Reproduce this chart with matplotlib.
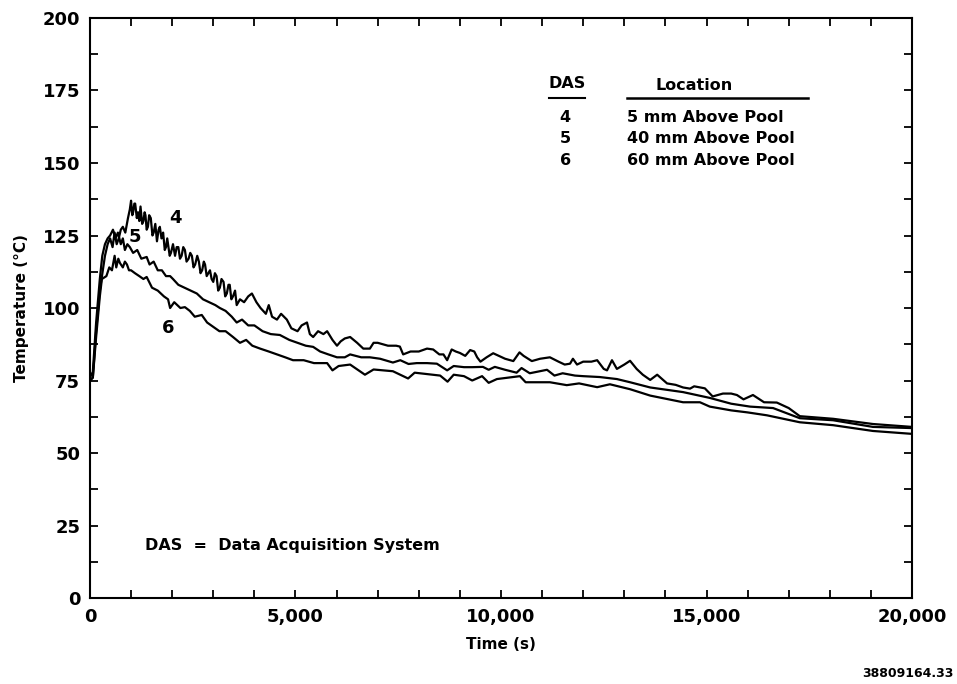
import matplotlib
matplotlib.use("Agg")
import matplotlib.pyplot as plt
from matplotlib.ticker import MultipleLocator, FuncFormatter

# --- data: time (s), temperature (C) ---
t4 = [0, 70, 150, 240, 365, 430, 490, 550, 600, 650, 700, 750, 800, 860, 925, 970,
      1000, 1030, 1050, 1080, 1100, 1140, 1170, 1200, 1230, 1270, 1300, 1330, 1350,
      1380, 1410, 1440, 1480, 1520, 1550, 1590, 1630, 1670, 1700, 1740, 1780, 1820,
      1850, 1880, 1900, 1940, 1970, 2020, 2070, 2110, 2150, 2190, 2230, 2270, 2310,
      2350, 2400, 2440, 2480, 2520, 2560, 2610, 2650, 2690, 2730, 2770, 2800, 2840,
      2880, 2920, 2960, 3000, 3040, 3080, 3120, 3160, 3200, 3250, 3290, 3330, 3370,
      3400, 3440, 3480, 3530, 3570, 3650, 3750, 3850, 3940, 4050, 4150, 4280,
      4350, 4430, 4550, 4650, 4790, 4900, 5050, 5150, 5280, 5350, 5430, 5550, 5680,
      5770, 5900, 6010, 6100, 6200, 6330, 6500, 6650, 6810, 6900, 7000, 7250, 7450,
      7540, 7620, 7800, 8000, 8200, 8350, 8500, 8600, 8690, 8800, 8900, 9000, 9130,
      9250, 9350, 9420, 9500, 9650, 9810, 9950, 10100, 10300, 10450, 10550, 10750,
      10950, 11190, 11400, 11550, 11680, 11750, 11850, 12000, 12200, 12340, 12500,
      12580, 12700, 12820, 13000, 13140, 13300, 13450, 13630, 13800, 14040, 14250,
      14430, 14600, 14700, 14960, 15150, 15400, 15600, 15740, 15900, 16130, 16400,
      16710, 17000, 17270, 18080, 19050, 20000]
temp4 = [75, 76, 92, 106, 118, 122, 124, 121, 126, 122, 124, 127, 128, 126, 131, 134,
         137, 132, 133, 136, 136, 131, 133, 130, 135, 129, 130, 133, 132,
         127, 128, 132, 131, 125, 126, 129, 123, 127, 128, 124, 126, 120,
         121, 124, 122, 118, 119, 122, 118, 121, 121, 117, 118, 121, 120,
         116, 117, 119, 118, 114, 115, 118, 116, 112, 113, 116, 115, 111,
         112, 113, 110, 109, 112, 111, 106, 107, 110, 109, 104, 105, 108,
         108, 103, 104, 106, 101, 103, 102, 104, 105, 102, 100, 98,
         101, 97, 96, 98, 96, 93, 92, 94, 95, 91, 90, 92, 91,
         92, 89, 87, 88.5, 89.5, 90, 88, 86, 86, 88, 88, 87, 87,
         86.7, 84, 85, 85, 86, 85.7, 84, 84, 82, 85.7, 85, 84.5, 83.5,
         85.5, 85, 83, 81.5, 83, 84.4, 83.5, 82.5, 81.7, 84.7, 83.5, 81.7,
         82.5, 83, 81.5, 80.5, 80.8, 82.5, 80.5, 81.5, 81.5, 82, 79,
         78.5, 82, 79, 80.5, 81.8, 79, 77, 75.2, 77, 74, 73.5,
         72.6, 72.2, 73, 72.3, 69.5, 70.5, 70.5, 70, 68.5, 70, 67.5,
         67.4, 65.5, 62.7, 61.8, 60, 59]

t5 = [0, 70, 150, 240, 300, 365, 430, 490, 560, 620, 680, 750, 800, 850, 910, 970,
      1050, 1150, 1250, 1380, 1450, 1550, 1650, 1750, 1850, 1950, 2020, 2150, 2300,
      2450, 2600, 2750, 2900, 3050, 3160, 3300, 3450, 3570, 3700, 3850, 4000, 4200,
      4400, 4620, 4850, 5050, 5250, 5430, 5600, 5800, 6010, 6200, 6330, 6600, 6810,
      7060, 7370, 7550, 7750, 7950, 8200, 8440, 8690, 8850, 9100, 9300, 9560, 9700,
      9850, 10100, 10380, 10500, 10700, 11120, 11300, 11500, 11800, 12000, 12400,
      12820, 13140, 13630, 14430, 15080, 15600, 16060, 16620, 17270, 18080, 19050,
      20000]
temp5 = [76, 78, 95, 110, 118, 122, 124, 125, 127, 124, 126, 122, 124, 120, 122, 121,
         119, 120, 117, 117.6, 115, 116, 113, 113, 111, 111, 110, 108, 107,
         106, 105, 103, 102, 101, 100, 99, 97, 95, 96, 94, 94, 92,
         91, 90.7, 89, 88, 87, 86.6, 85, 84, 83, 83, 84, 83, 83,
         82.5, 81.2, 82, 80.7, 81, 81, 80.8, 78.5, 80, 79.6, 79.6, 79.7, 78.7,
         79.7, 78.7, 77.7, 79.3, 77.5, 78.7, 76.7, 77.5, 76.7, 76.5, 76.2,
         75.5, 74.4, 72.6, 71, 69, 67, 66, 65.5, 62, 61.3, 59,
         58.6]

t6 = [0, 70, 150, 240, 290, 400, 470, 535, 600, 640, 690, 730, 800, 850, 900, 950,
      1000, 1095, 1200, 1300, 1380, 1510, 1650, 1800, 1900, 1950, 2050, 2200, 2310,
      2430, 2550, 2720, 2850, 3000, 3150, 3300, 3480, 3650, 3800, 3950, 4140, 4350,
      4550, 4750, 4940, 5200, 5450, 5770, 5900, 6050, 6330, 6690, 6900, 7370, 7740,
      7900, 8520, 8700, 8850, 9100, 9300, 9540, 9700, 9900, 10460, 10600, 11190,
      11600, 11900, 12340, 12650, 13140, 13630, 14430, 14840, 15080, 15600, 16000,
      16470, 17270, 18080, 19050, 20000]
temp6 = [75, 76, 90, 104, 110, 111, 114, 113, 118, 114, 117, 115.5, 114, 116, 115, 113,
         113, 112, 111, 110, 110.7, 107, 106, 104, 103, 100, 102, 100, 100.3,
         99, 97, 97.6, 95, 93.5, 92, 92, 90, 88, 89, 87, 86, 85,
         84, 83, 82, 82, 81, 81, 78.5, 80, 80.5, 77, 78.8, 78.2, 75.7,
         77.7, 76.7, 74.6, 77, 76.5, 75, 76.5, 74.2, 75.5, 76.5, 74.4, 74.4,
         73.4, 74, 72.7, 73.7, 72, 69.8, 67.5, 67.5, 66, 64.7, 64,
         63, 60.6, 59.6, 57.6, 56.6]

das_ids = ["4", "5", "6"]
locations = ["5 mm Above Pool", "40 mm Above Pool", "60 mm Above Pool"]

plt.rcParams['font.family'] = ['DejaVu Sans']
plt.rcParams['font.weight'] = 'bold'

fig = plt.figure(figsize=(9.57, 6.84), dpi=100)
ax = fig.add_axes([0.094, 0.1257, 0.859, 0.848])

for t, v in [(t4, temp4), (t5, temp5), (t6, temp6)]:
    ax.plot(t, v, color='black', linewidth=1.6)

ax.set_xlim(0, 20000)
ax.set_ylim(0, 200)

ax.xaxis.set_major_locator(MultipleLocator(5000))
ax.xaxis.set_minor_locator(MultipleLocator(1000))
ax.yaxis.set_major_locator(MultipleLocator(25))
ax.yaxis.set_minor_locator(MultipleLocator(12.5))
ax.xaxis.set_major_formatter(FuncFormatter(lambda x, p: f"{int(x):,}"))

ax.tick_params(which='both', direction='in', top=True, right=True, width=1.3)
ax.tick_params(which='major', length=6, labelsize=13, pad=7)
ax.tick_params(which='minor', length=6)
for lab in ax.get_xticklabels() + ax.get_yticklabels():
    lab.set_fontweight('bold')
for s in ax.spines.values():
    s.set_linewidth(1.5)

ax.set_xlabel("Time (s)", fontsize=11, fontweight='bold', labelpad=8)
ax.set_ylabel("Temperature (°C)", fontsize=11, fontweight='bold', labelpad=10)

# curve labels
ax.text(2070, 131, das_ids[0], fontsize=13, fontweight='bold', ha='center', va='center')
ax.text(1095, 124.5, das_ids[1], fontsize=13, fontweight='bold', ha='center', va='center')
ax.text(1900, 93, das_ids[2], fontsize=13, fontweight='bold', ha='center', va='center')

# legend table
ax.text(0.581, 0.887, "DAS", transform=ax.transAxes, fontsize=11.5, fontweight='bold',
        ha='center', va='center')
ax.plot([0.558, 0.602], [0.862, 0.862], transform=ax.transAxes, color='black', lw=1.5)
ax.text(0.735, 0.884, "Location", transform=ax.transAxes, fontsize=11.5, fontweight='bold',
        ha='center', va='center')
ax.plot([0.653, 0.874], [0.862, 0.862], transform=ax.transAxes, color='black', lw=1.8)
for i, (d, loc) in enumerate(zip(das_ids, locations)):
    yy = 0.829 - i * 0.037
    ax.text(0.578, yy, d, transform=ax.transAxes, fontsize=11.5, fontweight='bold',
            ha='center', va='center')
    ax.text(0.653, yy, loc, transform=ax.transAxes, fontsize=11.5, fontweight='bold',
            ha='left', va='center')

ax.text(0.067, 0.09, "DAS  =  Data Acquisition System", transform=ax.transAxes,
        fontsize=11.5, fontweight='bold', ha='left', va='center')

fig.text(0.996, 0.015, "38809164.33", fontsize=9, fontweight='bold', ha='right', va='center')

fig.savefig("out.png", dpi=100)
